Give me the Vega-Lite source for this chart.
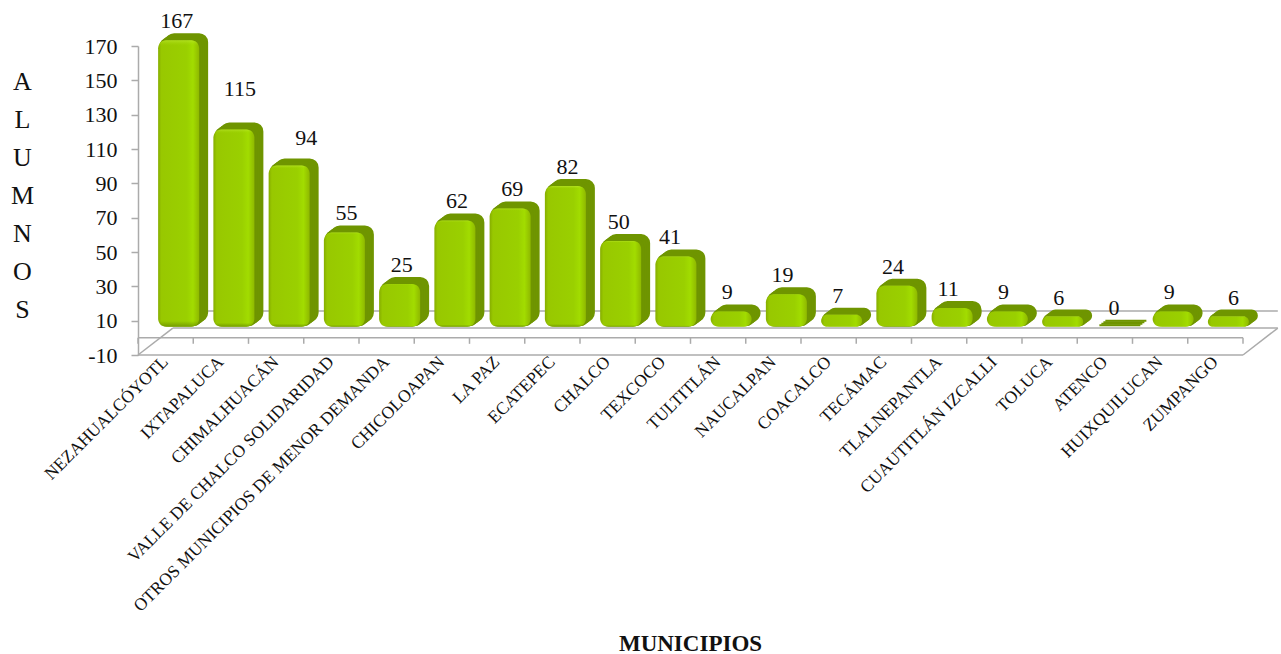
{
"$schema":"https://vega.github.io/schema/vega-lite/v6.json",
"width":1105,"height":309,
"autosize":{"type":"none"},
"padding":{"left":138,"top":46,"right":38,"bottom":299},
"background":"white",
"config":{"view":{"stroke":null},"font":"Liberation Serif"},
"datasets":{
"bars":[
{"m":"NEZAHUALCÓYOTL","v":167},{"m":"IXTAPALUCA","v":115},{"m":"CHIMALHUACÁN","v":94},{"m":"VALLE DE CHALCO SOLIDARIDAD","v":55},{"m":"OTROS MUNICIPIOS  DE MENOR DEMANDA","v":25},{"m":"CHICOLOAPAN","v":62},{"m":"LA PAZ","v":69},{"m":"ECATEPEC","v":82},{"m":"CHALCO","v":50},{"m":"TEXCOCO","v":41},{"m":"TULTITLÁN","v":9},{"m":"NAUCALPAN","v":19},{"m":"COACALCO","v":7},{"m":"TECÁMAC","v":24},{"m":"TLALNEPANTLA","v":11},{"m":"CUAUTITLÁN IZCALLI","v":9},{"m":"TOLUCA","v":6},{"m":"ATENCO","v":0},{"m":"HUIXQUILUCAN","v":9},{"m":"ZUMPANGO","v":6}],
"floor":[
{"s":"front","c":0,"a":-10},{"s":"front","c":20,"a":-10},
{"s":"wall","c":0,"a":0},{"s":"wall","c":20,"a":0},
{"s":"dl","c":0,"a":-10},{"s":"dl","c":0.63,"a":5.7},
{"s":"dr","c":20,"a":-10},{"s":"dr","c":20.63,"a":5.7},
{"s":"mid","c":0.63,"a":5.7},{"s":"mid","c":20.63,"a":5.7},
{"s":"back","c":0.63,"a":15.6},{"s":"back","c":20.63,"a":15.6}],
"ticks":[{"t":0},{"t":1},{"t":2},{"t":3},{"t":4},{"t":5},{"t":6},{"t":7},{"t":8},{"t":9},{"t":10},{"t":11},{"t":12},{"t":13},{"t":14},{"t":15},{"t":16},{"t":17},{"t":18},{"t":19},{"t":20}]
},
"resolve":{"scale":{"x":"independent"}},
"layer":[
{"layer":[
{"data":{"name":"floor"},
"mark":{"type":"line","color":"#ababab","strokeWidth":1.5},
"encoding":{"x":{"field":"c","type":"quantitative","scale":{"domain":[0,20],"nice":false,"zero":false},"axis":null},
"y":{"field":"a","type":"quantitative","scale":{"domain":[-10,170],"nice":false},"axis":{"values":[-10,10,30,50,70,90,110,130,150,170],"tickCount":10,"labelExpr":"''+datum.value","labelOverlap":false,"grid":false,"domainColor":"#ababab","domainWidth":1.5,"tickColor":"#ababab","tickWidth":1.5,"tickSize":7,"labelFontSize":22,"labelColor":"#111","labelPadding":14,"labelFont":"Liberation Serif",
"title":["A","L","U","M","N","O","S"],"titleAngle":0,"titleFontSize":26,"titleFontWeight":"normal","titleFont":"Liberation Serif","titleColor":"#111","titleLineHeight":38,"titleX":-116,"titleY":43,"titleAlign":"center","titleBaseline":"alphabetic"}},
"detail":{"field":"s"}}},
{"data":{"name":"ticks"},
"mark":{"type":"rule","color":"#ababab","strokeWidth":1.5},
"encoding":{"x":{"field":"t","type":"quantitative"},"y":{"datum":0},"y2":{"datum":-3.5}}}
]},
{"data":{"name":"bars"},
"encoding":{
"x":{"field":"m","type":"nominal","sort":null,"scale":{"paddingInner":0,"paddingOuter":0},
"axis":{"orient":"bottom","domain":false,"ticks":false,"grid":false,"labelAngle":-45,"labelAlign":"right","labelBaseline":"middle","labelFontSize":17.5,"labelColor":"#111","labelPadding":4,"labelLimit":0,"labelOverlap":false,"labelFont":"Liberation Serif",
"title":"MUNICIPIOS","titleFontSize":23,"titleFontWeight":"bold","titleFont":"Liberation Serif","titleColor":"#111","titleX":552,"titleY":288,"titleAlign":"center","titleBaseline":"middle"}},
"y":{"field":"v","type":"quantitative"},
"y2":{"datum":0}},
"layer":[
{"mark":{"type":"bar","width":41,"cornerRadius":8,"color":"#6f9500","stroke":"#6f9500","strokeWidth":2,"xOffset":21,"yOffset":-17,"y2Offset":-17}},
{"mark":{"type":"bar","width":41,"cornerRadius":8,"color":"#6f9500","stroke":"#6f9500","strokeWidth":2,"xOffset":19,"yOffset":-15.5,"y2Offset":-15.5}},
{"mark":{"type":"bar","width":41,"cornerRadius":8,"color":"#6f9500","stroke":"#6f9500","strokeWidth":2,"xOffset":17,"yOffset":-14,"y2Offset":-14}},
{"mark":{"type":"bar","width":41,"cornerRadius":8,"color":"#6f9500","stroke":"#6f9500","strokeWidth":2,"xOffset":15,"yOffset":-12.5,"y2Offset":-12.5}},
{"mark":{"type":"bar","width":41,"cornerRadius":8,"xOffset":13,"yOffset":-11,"y2Offset":-11,
"color":{"gradient":"linear","x1":0,"y1":0,"x2":1,"y2":0,"stops":[{"offset":0,"color":"#86ad00"},{"offset":0.08,"color":"#98c800"},{"offset":0.7,"color":"#9ad000"},{"offset":0.85,"color":"#a2dc00"},{"offset":1,"color":"#8fb900"}]}}},
{"mark":{"type":"bar","width":41,"cornerRadius":8,"xOffset":13,"yOffset":-11,"y2Offset":-11,
"color":{"gradient":"linear","x1":0,"y1":0,"x2":0,"y2":1,"stops":[{"offset":0,"color":"rgba(200,240,64,0.5)"},{"offset":0.02,"color":"rgba(160,216,0,0)"},{"offset":0.98,"color":"rgba(90,122,0,0)"},{"offset":1,"color":"rgba(90,122,0,0.6)"}]}}},
{"transform":[{"filter":"indexof(['NEZAHUALCÓYOTL','IXTAPALUCA','CHIMALHUACÁN','ZUMPANGO','TEXCOCO','CHALCO'],datum.m)<0 && datum.v>=25 && datum.m!='TECÁMAC'"}],
"mark":{"type":"text","fontSize":22,"font":"Liberation Serif","color":"#111","baseline":"middle","dx":15,"dy":-30},
"encoding":{"text":{"field":"v"},"y2":null}},
{"transform":[{"filter":"indexof(['ZUMPANGO','TEXCOCO','CHALCO'],datum.m)<0 && (datum.v<25 || datum.m=='TECÁMAC')"}],
"mark":{"type":"text","fontSize":22,"font":"Liberation Serif","color":"#111","baseline":"middle","dx":9,"dy":-30},
"encoding":{"text":{"field":"v"},"y2":null}},
{"transform":[{"filter":"datum.m=='NEZAHUALCÓYOTL' || datum.m=='CHALCO'"}],
"mark":{"type":"text","fontSize":22,"font":"Liberation Serif","color":"#111","baseline":"middle","dx":11,"dy":-30},
"encoding":{"text":{"field":"v"},"y2":null}},
{"transform":[{"filter":"datum.m=='TEXCOCO'"}],
"mark":{"type":"text","fontSize":22,"font":"Liberation Serif","color":"#111","baseline":"middle","dx":7,"dy":-30},
"encoding":{"text":{"field":"v"},"y2":null}},
{"transform":[{"filter":"datum.m=='IXTAPALUCA'"}],
"mark":{"type":"text","fontSize":22,"font":"Liberation Serif","color":"#111","baseline":"middle","dx":19,"dy":-51},
"encoding":{"text":{"field":"v"},"y2":null}},
{"transform":[{"filter":"datum.m=='CHIMALHUACÁN'"}],
"mark":{"type":"text","fontSize":22,"font":"Liberation Serif","color":"#111","baseline":"middle","dx":30,"dy":-38},
"encoding":{"text":{"field":"v"},"y2":null}},
{"transform":[{"filter":"datum.m=='ZUMPANGO'"}],
"mark":{"type":"text","fontSize":22,"font":"Liberation Serif","color":"#111","baseline":"middle","dx":18,"dy":-30},
"encoding":{"text":{"field":"v"},"y2":null}}
]}
]
}
